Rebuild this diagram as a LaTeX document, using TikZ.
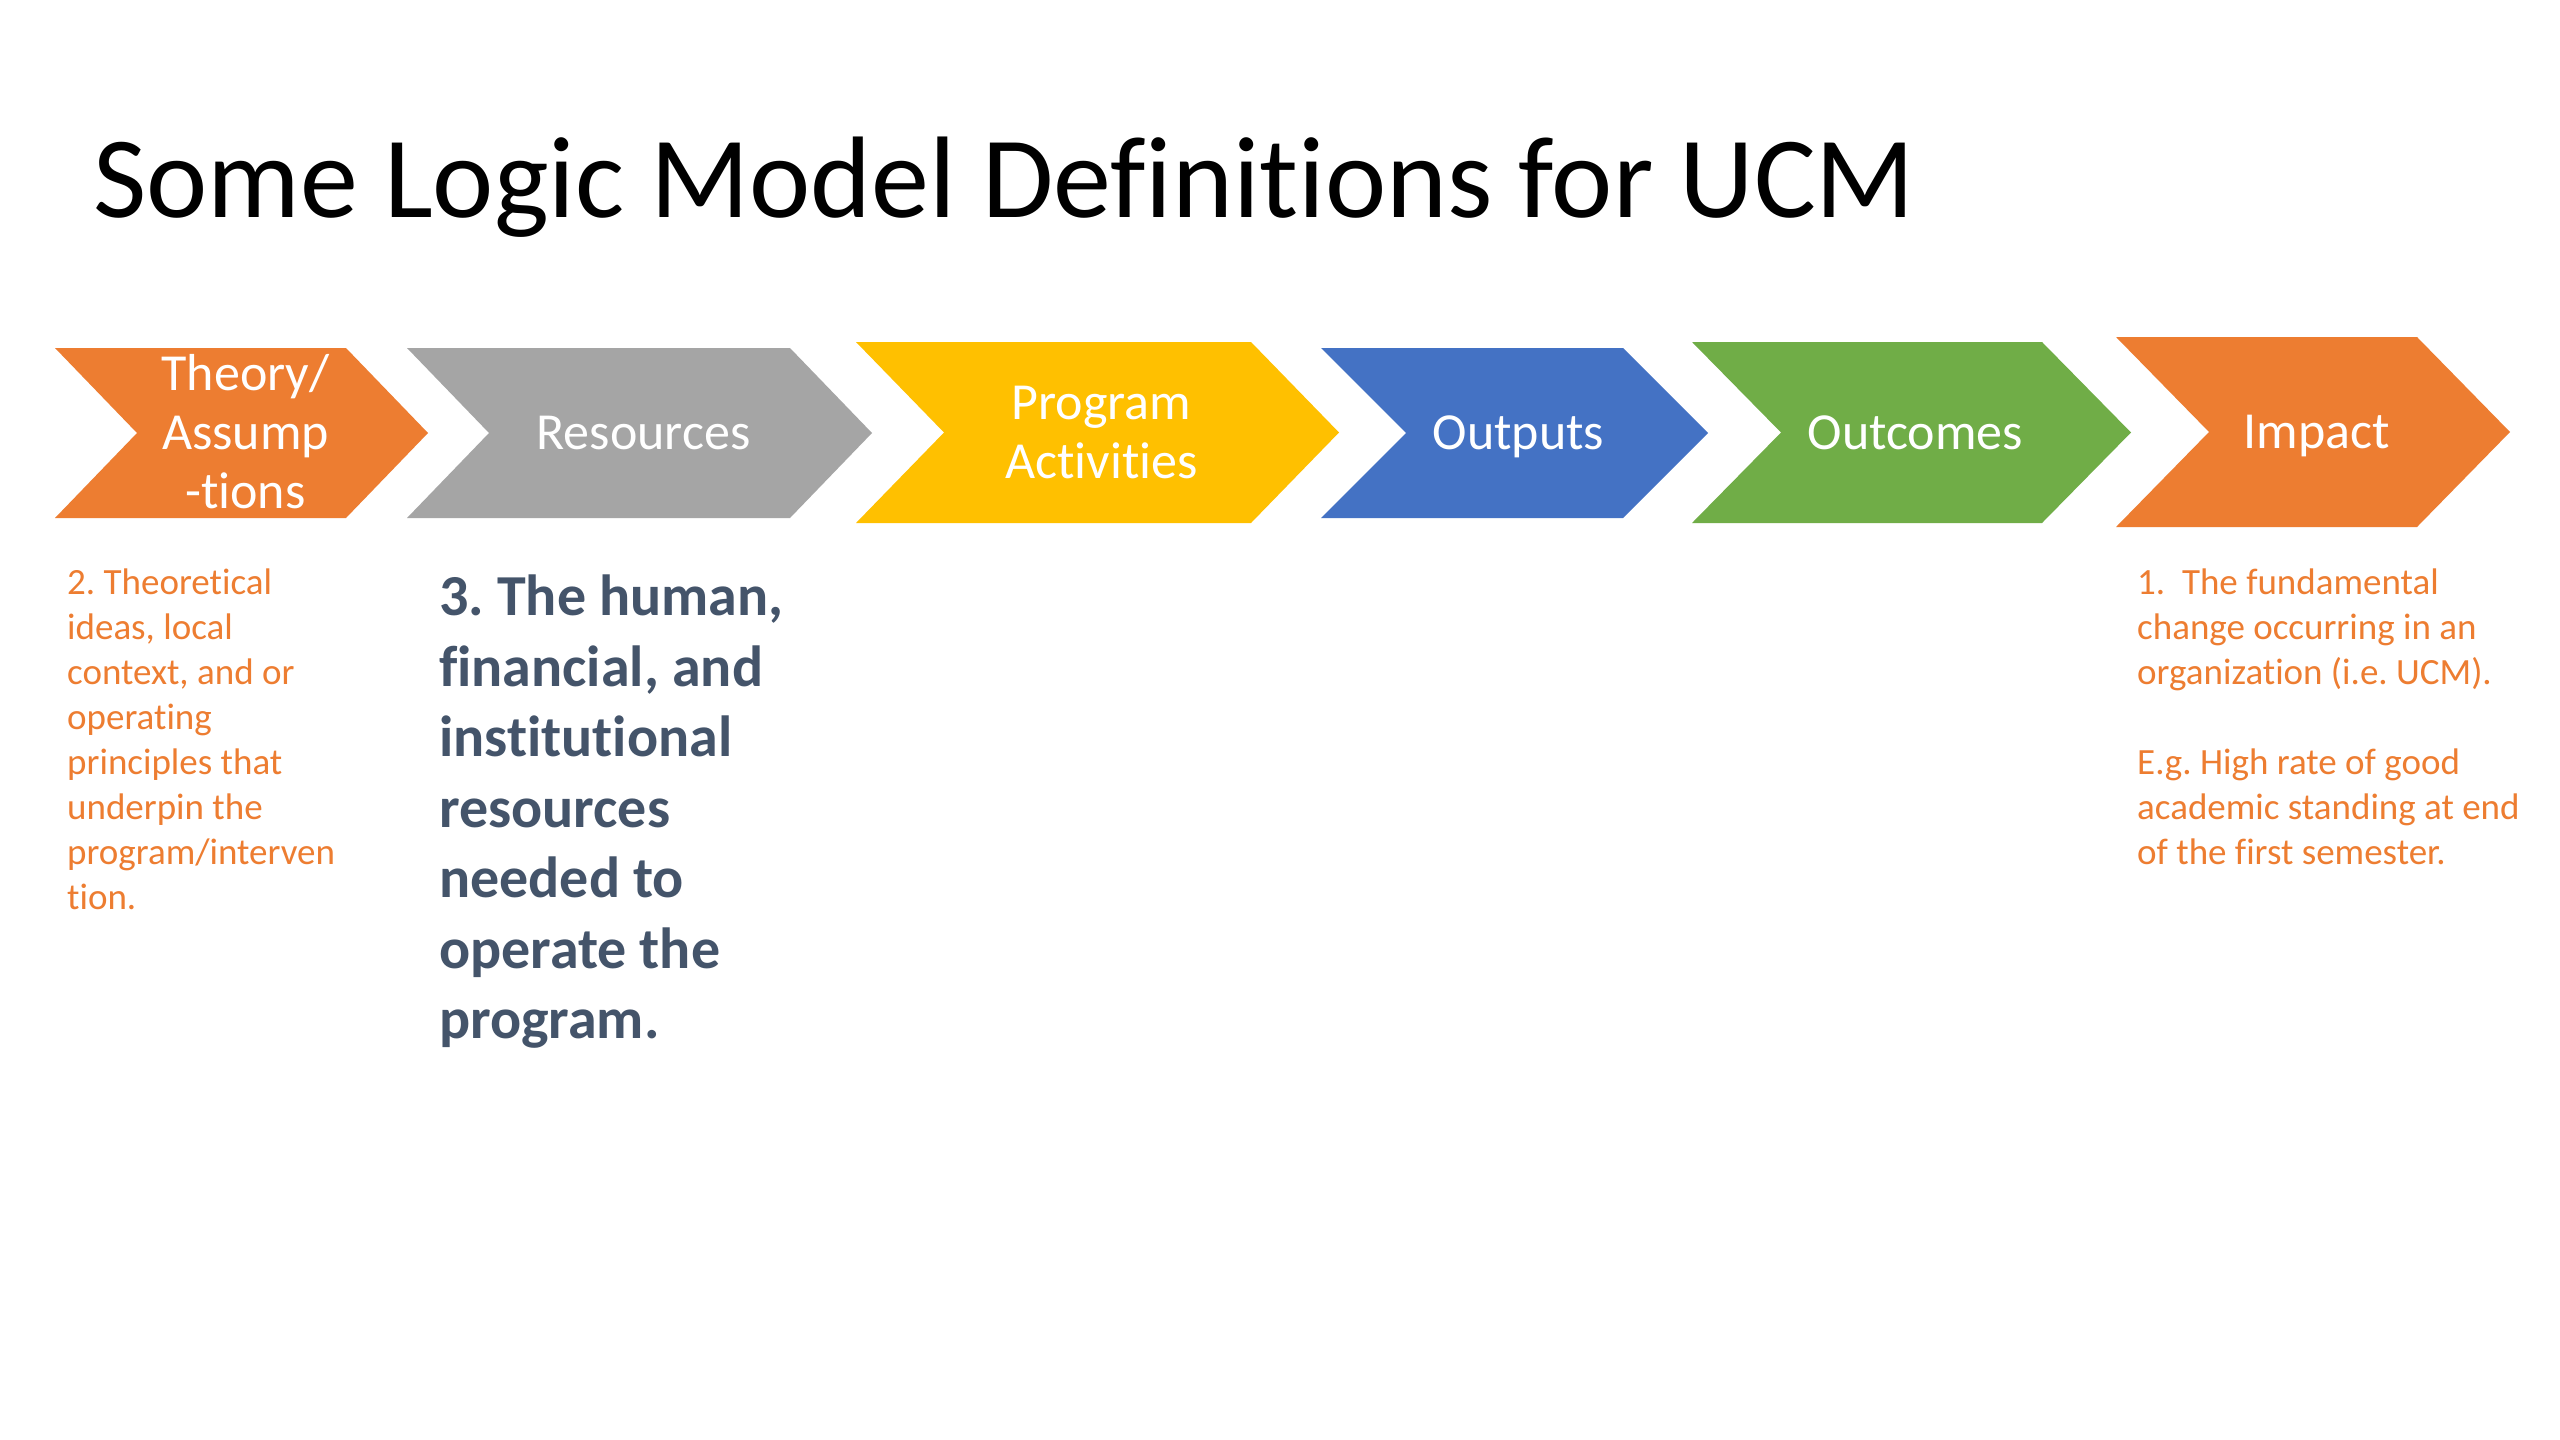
\documentclass[tikz,border=0pt]{standalone}
\usepackage{fontspec}
\setmainfont{Carlito}[Ligatures=NoCommon]
\frenchspacing
\definecolor{corange}{HTML}{ED7D31}
\definecolor{cgray}{HTML}{A5A5A5}
\definecolor{cyellow}{HTML}{FFC000}
\definecolor{cblue}{HTML}{4472C4}
\definecolor{cgreen}{HTML}{70AD47}
\definecolor{cslate}{HTML}{44546A}
\tikzset{
  chevlabel/.style={text=white, align=center, inner sep=0pt, xshift=4pt, yshift=-5pt, font=\fontsize{52}{59}\selectfont},
  smalltext/.style={text=corange, align=left, inner sep=0pt, anchor=north west, font=\fontsize{37}{45}\selectfont},
  bigtext/.style={text=cslate, align=left, inner sep=0pt, anchor=north west, font=\fontsize{58}{70.5}\selectfont\bfseries},
}
\begin{document}
\begin{tikzpicture}[x=1pt,y=-1pt]
\useasboundingbox (0,0) rectangle (2560,1440);
\fill[white] (0,0) rectangle (2560,1440);

\node[anchor=base west, inner sep=0pt, font=\fontsize{116}{130}\selectfont] (title) at (93,217) {Some Logic Model Definitions for UCM};

% chevrons: left / tip / top / bottom / depth / colour / name / label
\foreach \l/\t/\tp/\bt/\d/\c/\n/\lab in {
  55/428/348/518/82/corange/theory/{\strut Theory/\\\strut Assump\\\strut -tions},
  407/872/348/518/82/cgray/resources/{\strut Resources},
  856/1339/342/523/88/cyellow/program/{\strut Program\\\strut Activities},
  1321/1708/348/518/85/cblue/outputs/{\strut Outputs},
  1692/2131/342/523/89/cgreen/outcomes/{\strut Outcomes},
  2116/2510/337/527/93/corange/impact/{\strut Impact}}{
  \pgfmathsetmacro{\m}{(\tp+\bt)/2}
  \pgfmathsetmacro{\cx}{(\l+\t)/2}
  \fill[\c] (\l,\tp) -- (\t-\d,\tp) -- (\t,\m) -- (\t-\d,\bt) -- (\l,\bt) -- (\l+\d,\m) -- cycle;
  \node[chevlabel] (\n) at (\cx,\m) {\lab};
}

\node[smalltext] (theorydef) at (67,569) {2. Theoretical\\ideas, local\\context, and or\\operating\\principles that\\underpin the\\program/interven\\tion.};

\node[bigtext] (resourcesdef) at (439,575) {3. The human,\\financial, and\\institutional\\resources\\needed to\\operate the\\program.};

\node[smalltext] (impactdef) at (2137,569) {1.\ \ The fundamental\\change occurring in an\\organization (i.e. UCM).\\[45pt]E.g. High rate of good\\academic standing at end\\of the first semester.};
\end{tikzpicture}
\end{document}
